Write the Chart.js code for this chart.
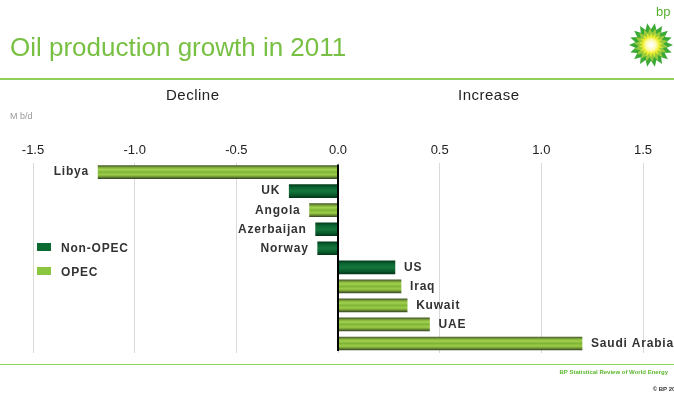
<!DOCTYPE html>
<html>
<head>
<meta charset="utf-8">
<script src="https://cdn.jsdelivr.net/npm/chart.js@4.4.1/dist/chart.umd.min.js"></script>
<style>
  body { margin: 0; background: #fff; font-family: "Liberation Sans", Arial, sans-serif; }
  #wrap { position: relative; width: 674px; height: 393px; overflow: hidden; }
  canvas { position: absolute; left: 0; top: 0; }
  .t { position: absolute; white-space: nowrap; }
  #title { left: 10px; top: 32px; font-size: 26px; color: #78c043; }
  #line1 { position: absolute; left: 0; top: 78px; width: 674px; height: 2px; background: #8fd05a; }
  #line2 { position: absolute; left: 0; top: 364px; width: 674px; height: 1px; background: #8fd05a; }
  #decl { left: 166px; top: 86px; font-size: 15px; color: #222; letter-spacing: 0.5px; }
  #incr { left: 458px; top: 86px; font-size: 15px; color: #222; letter-spacing: 0.5px; }
  #unit { left: 10px; top: 111px; font-size: 9px; color: #999; }
  #src { right: 6px; top: 369px; font-size: 6px; color: #5cb82e; font-weight: bold; }
  #copy { right: -8px; top: 386px; font-size: 6px; color: #333; font-weight: bold; }
  .leg { position: absolute; left: 37px; font-size: 12px; color: #333; font-weight: bold; letter-spacing: 0.8px; }
  .leg span { display: inline-block; width: 14px; height: 8px; margin-right: 10px; vertical-align: 1px; }
  #bp { left: 656px; top: 4px; font-size: 13px; color: #58b030; }
</style>
</head>
<body>
<div id="wrap">
  <canvas id="chart" width="674" height="393"></canvas>
  <div class="t" id="title">Oil production growth in 2011</div>
  <div id="line1"></div>
  <div class="t" id="decl">Decline</div>
  <div class="t" id="incr">Increase</div>
  <div class="t" id="unit">M b/d</div>
  <div class="leg" style="top:241px"><span style="background:#0b6a33"></span>Non-OPEC</div>
  <div class="leg" style="top:265px"><span style="background:#8cc63e"></span>OPEC</div>
  <div id="line2"></div>
  <div class="t" id="src">BP Statistical Review of World Energy</div>
  <div class="t" id="copy">© BP 2012</div>
  <div class="t" id="bp">bp</div>
</div>
<script>
// données (Mb/d)
const countries = ["Libya", "UK", "Angola", "Azerbaijan", "Norway", "US", "Iraq", "Kuwait", "UAE", "Saudi Arabia"];
const growth = [-1.18, -0.24, -0.14, -0.11, -0.10, 0.28, 0.31, 0.34, 0.45, 1.20];
const groupe = ["OPEC", "Non-OPEC", "OPEC", "Non-OPEC", "Non-OPEC", "Non-OPEC", "OPEC", "OPEC", "OPEC", "OPEC"];
const xTicks = [-1.5, -1.0, -0.5, 0.0, 0.5, 1.0, 1.5];

const BAR_H = 13;

function barFill(ctx) {
    const chart = ctx.chart;
    const y = chart.scales.y;
    const opec = groupe[ctx.dataIndex] == "OPEC";
    if (!y || ctx.dataIndex === undefined) return opec ? '#8cc63e' : '#0b6a33';
    const cy = y.getPixelForValue(ctx.dataIndex);
    if (!isFinite(cy)) return opec ? '#8cc63e' : '#0b6a33';
    const g = chart.ctx.createLinearGradient(0, cy - BAR_H / 2, 0, cy + BAR_H / 2);
    if (opec) {
        g.addColorStop(0, '#4b5a2c');
        g.addColorStop(0.15, '#7fae3a');
        g.addColorStop(0.3, '#a3d150');
        g.addColorStop(0.5, '#7fb536');
        g.addColorStop(0.7, '#9fcd4a');
        g.addColorStop(0.85, '#6f9a32');
        g.addColorStop(1, '#3e4a26');
    } else {
        g.addColorStop(0, '#043c1c');
        g.addColorStop(0.2, '#0a6230');
        g.addColorStop(0.5, '#15773c');
        g.addColorStop(0.8, '#085a2c');
        g.addColorStop(1, '#033619');
    }
    return g;
}

/* noms des pays a cote des barres + axe zero + logo */
const decor = {
    id: 'decor',
    afterDatasetsDraw(chart) {
        const c = chart.ctx;
        const x = chart.scales.x, y = chart.scales.y;
        c.save();
        c.font = 'bold 12px "Liberation Sans", Arial, sans-serif';
        c.letterSpacing = '0.8px';
        c.fillStyle = '#333';
        c.textBaseline = 'middle';
        for (let i = 0; i < countries.length; i++) {
            const px = x.getPixelForValue(growth[i]);
            const py = y.getPixelForValue(i);
            if (growth[i] < 0) {
                c.textAlign = 'right';
                c.fillText(countries[i], px - 9, py);
            } else {
                c.textAlign = 'left';
                c.fillText(countries[i], px + 9, py);
            }
        }
        c.letterSpacing = '0px';
        const x0 = x.getPixelForValue(0);
        c.strokeStyle = '#000';
        c.lineWidth = 2;
        c.beginPath();
        c.moveTo(x0, chart.chartArea.top + 2);
        c.lineTo(x0, chart.chartArea.bottom - 2);
        c.stroke();

        // logo
        const lx = 651, ly = 45;
        for (let k = 0; k < 3; k++) {
            const r = [22, 17, 12][k];
            const col = ['#3aa935', '#9acb3c', '#e6ea2c'][k];
            c.fillStyle = col;
            c.beginPath();
            const n = 18;
            for (let j = 0; j <= n * 2; j++) {
                const a = j * Math.PI / n + k * 0.1;
                const rr = j % 2 == 0 ? r : r * 0.72;
                c.lineTo(lx + Math.cos(a) * rr, ly + Math.sin(a) * rr);
            }
            c.fill();
        }
        const rg = c.createRadialGradient(lx, ly, 1, lx, ly, 8);
        rg.addColorStop(0, '#ffffff');
        rg.addColorStop(0.6, '#fdfbb0');
        rg.addColorStop(1, '#f3ee3a');
        c.fillStyle = rg;
        c.beginPath();
        c.arc(lx, ly, 8, 0, Math.PI * 2);
        c.fill();
        c.restore();
    }
};

new Chart(document.getElementById('chart'), {
    type: 'bar',
    data: {
        labels: countries,
        datasets: [{
            data: growth,
            backgroundColor: barFill,
            barThickness: BAR_H,
            borderWidth: 0
        }]
    },
    options: {
        indexAxis: 'y',
        responsive: false,
        animation: false,
        layout: { padding: { left: 33, right: 31, top: 139, bottom: 40 } },
        plugins: { legend: { display: false }, tooltip: { enabled: false } },
        scales: {
            x: {
                position: 'top',
                min: -1.5,
                max: 1.5,
                afterBuildTicks: (s) => { s.ticks = xTicks.map(v => ({ value: v })); },
                ticks: {
                    callback: (v) => Number(v).toFixed(1),
                    color: '#222',
                    font: { size: 13, family: '"Liberation Sans", Arial, sans-serif' },
                    padding: 4
                },
                grid: { color: '#d9d9d9', lineWidth: 1, drawTicks: false },
                border: { display: false }
            },
            y: {
                display: false,
                grid: { display: false }
            }
        }
    },
    plugins: [decor]
});
</script>
</body>
</html>
